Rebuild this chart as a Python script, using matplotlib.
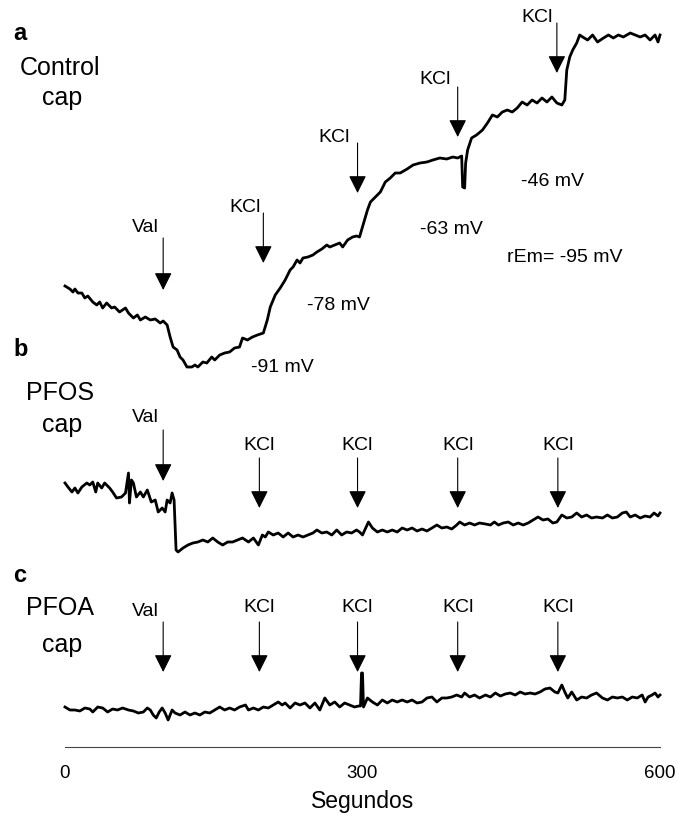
import matplotlib.pyplot as plt

plt.rcParams["font.family"] = ["Liberation Sans", "DejaVu Sans"]

# trace a (control): time in s, signal in arbitrary units above the panel baseline
t_a = [0, 5, 8, 10, 13, 17, 20, 23, 28, 32, 35, 38, 42, 47, 50, 55, 61, 64, 69, 73,
       76, 81, 86, 91, 96, 99, 103, 106, 109, 113, 116, 119, 123, 128, 131, 134, 139, 143,
       148, 151, 156, 161, 166, 171, 176, 179, 184, 189, 194, 200, 204, 207, 212, 217, 222,
       227, 230, 234, 237, 240, 245, 250, 254, 259, 264, 267, 272, 277, 280, 285, 290, 294,
       297, 300, 305, 308, 313, 318, 323, 328, 333, 338, 345, 351, 358, 365, 371, 378, 385,
       391, 396, 400, 401, 403, 404, 406, 410, 415, 421, 426, 431, 436, 441, 446, 451, 456,
       461, 466, 471, 476, 481, 486, 491, 496, 501, 504, 506, 509, 512, 516, 519, 522, 527,
       532, 537, 543, 548, 553, 558, 563, 570, 575, 580, 585, 590, 595, 598, 600]
v_a = [94, 91, 88, 91, 87, 87, 82, 84, 78, 75, 78, 72, 77, 72, 73, 68, 72, 67, 62, 65,
       60, 63, 60, 61, 57, 59, 55, 43, 33, 30, 23, 20, 13, 13, 15, 13, 18, 17,
       23, 20, 25, 27, 28, 32, 33, 42, 40, 43, 45, 47, 60, 73, 85, 92, 100,
       110, 113, 120, 117, 122, 123, 125, 128, 131, 135, 133, 135, 137, 133, 140, 143, 144,
       143, 153, 170, 178, 183, 188, 198, 202, 207, 207, 211, 215, 217, 218, 220, 222, 221,
       223, 222, 224, 193, 192, 217, 230, 242, 245, 250, 257, 265, 263, 268, 270, 268, 272,
       278, 275, 280, 277, 282, 278, 283, 277, 275, 280, 310, 323, 330, 337, 345, 343, 340,
       345, 338, 342, 345, 342, 345, 343, 347, 345, 343, 345, 340, 345, 338, 345]

# trace b (PFOS)
t_b = [0, 3, 7, 10, 13, 17, 22, 25, 28, 31, 33, 37, 40, 45, 48, 52, 57, 61, 64, 65,
       67, 69, 72, 76, 79, 83, 87, 91, 94, 98, 101, 103, 106, 108, 110, 112, 114, 119,
       124, 129, 134, 139, 144, 149, 154, 159, 164, 169, 174, 179, 185, 190, 195, 199, 202,
       205, 210, 215, 220, 225, 230, 235, 240, 245, 250, 254, 259, 264, 269, 274, 279, 284,
       289, 294, 297, 300, 306, 310, 315, 320, 325, 330, 335, 340, 345, 350, 355, 360, 365,
       370, 375, 380, 385, 390, 395, 398, 403, 408, 413, 418, 424, 429, 433, 437, 442, 447,
       452, 457, 462, 467, 472, 477, 482, 487, 492, 496, 501, 506, 511, 516, 521, 526, 531,
       536, 542, 547, 552, 557, 562, 566, 570, 575, 580, 585, 590, 594, 598, 600]
v_b = [77, 73, 68, 72, 67, 73, 77, 75, 78, 68, 77, 72, 77, 72, 68, 62, 63, 67, 87, 57,
       80, 77, 63, 68, 63, 70, 58, 60, 48, 52, 48, 60, 57, 67, 60, 10, 8, 12,
       15, 17, 18, 20, 18, 22, 18, 15, 18, 18, 20, 22, 18, 22, 15, 25, 23,
       28, 25, 27, 23, 27, 23, 25, 23, 25, 27, 30, 27, 28, 25, 30, 25, 28,
       27, 30, 28, 25, 38, 32, 28, 30, 28, 30, 28, 32, 30, 32, 29, 31, 29,
       32, 35, 32, 33, 31, 35, 38, 35, 37, 35, 37, 36, 35, 38, 35, 37, 38,
       35, 37, 35, 37, 40, 43, 40, 41, 37, 38, 45, 42, 43, 47, 43, 45, 42,
       43, 42, 45, 42, 43, 47, 48, 43, 45, 42, 44, 43, 47, 44, 47]

# trace c (PFOA)
t_c = [0, 5, 10, 15, 20, 25, 28, 33, 38, 43, 48, 53, 58, 64, 69, 74, 79, 83, 86, 89,
       92, 95, 98, 101, 104, 108, 111, 116, 121, 126, 131, 136, 141, 146, 151, 156, 161,
       166, 171, 176, 182, 185, 190, 195, 200, 205, 210, 215, 219, 222, 227, 232, 237, 242,
       247, 252, 257, 262, 267, 272, 277, 282, 287, 292, 296, 298, 299, 300, 301, 305, 310,
       315, 320, 325, 330, 335, 340, 345, 350, 355, 360, 365, 370, 375, 380, 385, 390, 395,
       400, 403, 408, 413, 418, 424, 429, 434, 439, 444, 449, 454, 459, 464, 469, 474, 479,
       484, 489, 494, 497, 501, 504, 507, 511, 516, 521, 526, 531, 536, 542, 547, 552, 557,
       562, 567, 572, 577, 582, 585, 588, 592, 595, 598, 600]
v_c = [13, 10, 10, 9, 12, 11, 8, 13, 12, 8, 11, 10, 12, 10, 9, 7, 8, 12, 10, 5,
       2, 8, 12, 7, 0, 10, 7, 5, 8, 5, 7, 5, 8, 7, 10, 13, 10,
       12, 10, 13, 15, 10, 12, 10, 13, 12, 15, 18, 15, 17, 12, 17, 15, 17,
       12, 17, 10, 22, 15, 18, 13, 17, 15, 13, 14, 14, 47, 47, 13, 22, 18,
       15, 20, 17, 20, 18, 20, 18, 20, 17, 18, 22, 23, 18, 22, 22, 23, 25,
       23, 27, 23, 25, 22, 25, 23, 27, 24, 26, 27, 25, 28, 26, 27, 26, 28,
       31, 32, 28, 27, 35, 28, 22, 28, 20, 23, 22, 25, 27, 22, 20, 23, 22,
       23, 20, 23, 22, 25, 18, 23, 25, 27, 23, 25]

# additions (s) and labels
arrows_a_t = [99, 200, 295, 396, 496]
arrows_bc_t = [99, 196, 295, 396, 497]
arrow_labels = ["Val", "KCl", "KCl", "KCl", "KCl"]
mv_labels = ["-91 mV", "-78 mV", "-63 mV", "-46 mV", "rEm= -95 mV"]

# panel baselines (figure pixels from bottom)
base_a, base_b, base_c = 447, 267, 107

fig = plt.figure(figsize=(6.78, 8.27), dpi=100)
ax = fig.add_axes([65 / 678, 0, 595 / 678, 1])
ax.set_xlim(0, 600)
ax.set_ylim(0, 827)

line_kw = dict(color="black", lw=2.0, solid_joinstyle="round", clip_on=False)
ax.plot(t_a, [base_a + v for v in v_a], **line_kw)
ax.plot(t_b, [base_b + v for v in v_b], **line_kw)
ax.plot(t_c, [base_c + v for v in v_c], **line_kw)


def arrow(t, top, tip):
    ax.annotate("", xy=(t, tip), xytext=(t, top),
                arrowprops=dict(arrowstyle="-|>,head_length=0.54,head_width=0.27",
                                mutation_scale=20, lw=0.8, color="black",
                                shrinkA=0, shrinkB=0))


fs = 14
# panel a arrows: label sits up and to the left
a_tops = [142, 167, 237, 293, 357]
a_tips = [90, 117, 187, 243, 307]
a_text = [(81, 153), (182, 172), (271, 242), (373, 300), (476, 363)]
for t, top, tip, lab, (tx, ty) in zip(arrows_a_t, a_tops, a_tips, arrow_labels, a_text):
    arrow(t, base_a + top, base_a + tip)
    ax.text(tx, base_a + ty, lab, fontsize=fs, ha="center", va="center")

mv_pos = [(219, 13), (276, 75), (390, 150), (492, 198), (504, 122)]
for lab, (tx, ty) in zip(mv_labels, mv_pos):
    ax.text(tx, base_a + ty, lab, fontsize=fs, ha="center", va="center")

# panels b and c
for base, val_y, kcl_y, top, tip, val_top, val_tip in [
        (base_b, 143, 115, 102, 52, 130, 79),
        (base_c, 108, 112, 98, 48, 98, 48)]:
    for i, (t, lab) in enumerate(zip(arrows_bc_t, arrow_labels)):
        if i == 0:
            arrow(t, base + val_top, base + val_tip)
            ax.text(81, base + val_y, lab, fontsize=fs, ha="center", va="center")
        else:
            arrow(t, base + top, base + tip)
            ax.text(t, base + kcl_y, lab, fontsize=fs, ha="center", va="center")

# panel titles
for letter, name, y_let, y_name, y_cap in [("a", "Control", 33, 68, 98),
                                           ("b", "PFOS", 350, 393, 425),
                                           ("c", "PFOA", 575, 608, 645)]:
    fig.text(13 / 678, 1 - y_let / 827, letter, fontsize=17, fontweight="bold", va="center")
    fig.text(60 / 678, 1 - y_name / 827, name, fontsize=18, ha="center", va="center")
    fig.text(62 / 678, 1 - y_cap / 827, "cap", fontsize=18, ha="center", va="center")

# x axis
for s in ["top", "left", "right"]:
    ax.spines[s].set_visible(False)
ax.spines["bottom"].set_position(("data", 80))
ax.spines["bottom"].set_color("#444444")
ax.spines["bottom"].set_linewidth(0.8)
ax.set_yticks([])
ax.set_xticks([0, 300, 600])
ax.tick_params(axis="x", length=0, pad=13, labelsize=13.5)
ax.set_xlabel("Segundos", fontsize=16.5, labelpad=6)
ax.patch.set_visible(False)

fig.savefig("out.png", dpi=100)
